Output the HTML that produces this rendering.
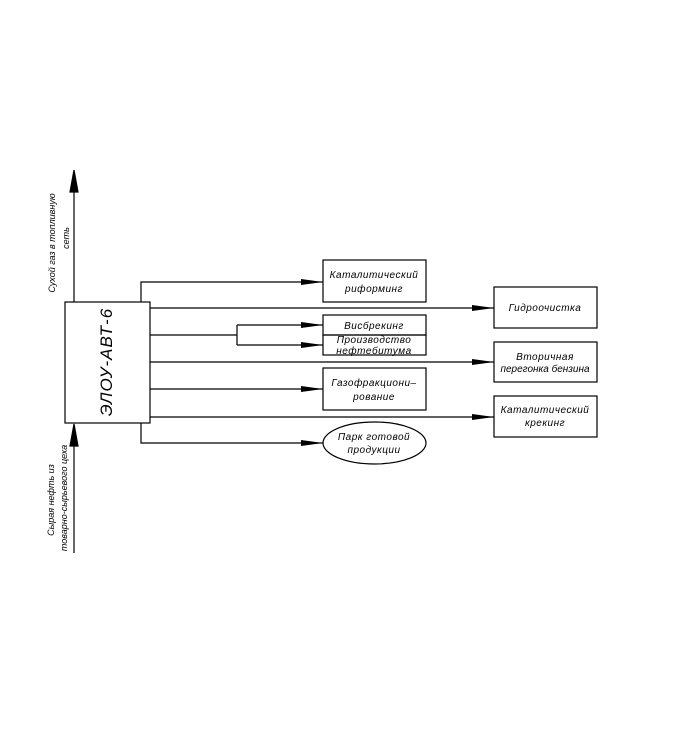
<!DOCTYPE html>
<html><head><meta charset="utf-8"><style>body{margin:0;background:#fff}svg{display:block}</style></head>
<body>
<svg width="682" height="730" xmlns="http://www.w3.org/2000/svg" font-family="Liberation Sans, DejaVu Sans, sans-serif" font-style="italic" font-size="10" fill="#000">
<defs><marker id="a" markerWidth="22" markerHeight="8" refX="22" refY="4" orient="auto" markerUnits="userSpaceOnUse"><path d="M0,1 L22,4 L0,7 Z" fill="#000"/></marker></defs>
<g stroke="#000" stroke-width="1.2" fill="none">
<rect x="65" y="302" width="85" height="121"/>
<line x1="74" y1="302" x2="74" y2="190"/>
<path d="M74,170 L70,192 L78,192 Z" fill="#000"/>
<line x1="74" y1="553" x2="74" y2="445"/>
<path d="M74,424 L70,446 L78,446 Z" fill="#000"/>
<rect x="323" y="260" width="103" height="42"/>
<rect x="323" y="315" width="103" height="20"/>
<rect x="323" y="335" width="103" height="20"/>
<rect x="323" y="368" width="103" height="42"/>
<ellipse cx="374.5" cy="443" rx="51.5" ry="21"/>
<rect x="494" y="287" width="103" height="41"/>
<rect x="494" y="342" width="103" height="40"/>
<rect x="494" y="396" width="103" height="41"/>
<polyline points="141,302 141,282 323,282" marker-end="url(#a)"/>
<line x1="150" y1="308" x2="494" y2="308" marker-end="url(#a)"/>
<line x1="150" y1="335" x2="237" y2="335"/>
<polyline points="237,325 237,345"/>
<line x1="237" y1="325" x2="323" y2="325" marker-end="url(#a)"/>
<line x1="237" y1="345" x2="323" y2="345" marker-end="url(#a)"/>
<line x1="150" y1="362" x2="494" y2="362" marker-end="url(#a)"/>
<line x1="150" y1="389" x2="323" y2="389" marker-end="url(#a)"/>
<line x1="150" y1="417" x2="494" y2="417" marker-end="url(#a)"/>
<polyline points="141,423 141,443 323,443" marker-end="url(#a)"/>
</g>
<g text-anchor="middle" letter-spacing="0.5">
<text x="374" y="278">Каталитический</text>
<text x="374" y="292">риформинг</text>
<text x="374" y="329">Висбрекинг</text>
<text x="374" y="343">Производство</text>
<text x="374" y="354">нефтебитума</text>
<text x="374" y="386">Газофракциони–</text>
<text x="374" y="400">рование</text>
<text x="374" y="440">Парк готовой</text>
<text x="374" y="453">продукции</text>
<text x="545" y="311">Гидроочистка</text>
<text x="545" y="360">Вторичная</text>
<text x="545" y="372" letter-spacing="0">перегонка бензина</text>
<text x="545" y="413">Каталитический</text>
<text x="545" y="426">крекинг</text>
</g>
<text x="0" y="0" font-size="17" font-style="italic" text-anchor="middle" transform="translate(112,362) rotate(-90)" letter-spacing="1">ЭЛОУ-АВТ-6</text>
<g font-size="9" text-anchor="middle">
<text transform="translate(55,243) rotate(-90)">Сухой газ в топливную</text>
<text transform="translate(69,238) rotate(-90)">сеть</text>
<text transform="translate(54,500) rotate(-90)">Сырая нефть из</text>
<text transform="translate(67,498) rotate(-90)">товарно-сырьевого цеха</text>
</g>
</svg>
</body></html>
